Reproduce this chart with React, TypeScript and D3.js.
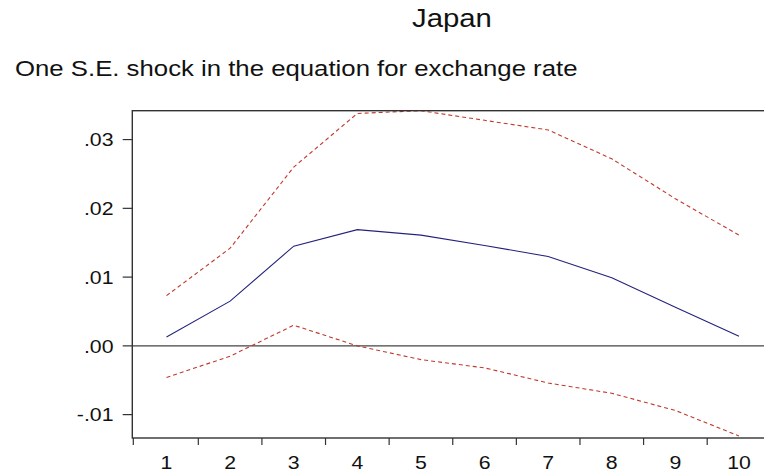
import React from 'react';
import * as d3 from 'd3';

// Impulse response horizon
const periods = [1, 2, 3, 4, 5, 6, 7, 8, 9, 10];
// Response of exchange rate and the +/- 2 S.E. bands
const response = [0.0013, 0.0065, 0.0145, 0.0169, 0.0161, 0.0146, 0.013, 0.0099, 0.0056, 0.0014];
const upperBand = [0.0073, 0.0142, 0.026, 0.0338, 0.0342, 0.0328, 0.0314, 0.0272, 0.0214, 0.0161];
const lowerBand = [-0.0046, -0.0015, 0.003, 0.0, -0.002, -0.0032, -0.0054, -0.0069, -0.0094, -0.0131];
const yTicks = [-0.01, 0, 0.01, 0.02, 0.03];

const W = 764;
const H = 473;
const FONT = '"Liberation Sans", Arial, sans-serif';
const SX = 1.15; // the source picture is a little wider than tall

const fmt = (v: number) => {
  const s = Math.abs(v).toFixed(2).replace(/^0/, '');
  return v < 0 ? '-' + s : s;
};

const App: React.FC = () => {
  const left = 132.3;
  const top = 110.7;
  const bottom = 438;

  const x = d3.scalePoint<number>().domain(periods).range([166.5, 739]);
  const step = x.step();
  const right = (x(10) as number) + step / 2;
  const y = d3.scaleLinear().domain([-0.0134, 0.0342]).range([bottom, top]);

  const line = d3
    .line<number>()
    .x((_, i) => x(periods[i]) as number)
    .y((d) => y(d));

  return (
    <div style={{ position: 'fixed', left: 0, top: 0 }}>
      <svg width={W} height={H} style={{ display: 'block', background: '#fff' }} fontFamily={FONT}>
        <g transform={`translate(412,27) scale(${SX},1)`}>
          <text fontSize={25.5} fill="#111">Japan</text>
        </g>
        <g transform={`translate(15,76) scale(${SX},1)`}>
          <text fontSize={22.4} fill="#111">One S.E. shock in the equation for exchange rate</text>
        </g>

        <defs>
          <clipPath id="plot">
            <rect x={left} y={top - 2} width={right - left} height={bottom - top + 4} />
          </clipPath>
        </defs>

        {/* zero line */}
        <line x1={left} x2={right} y1={y(0)} y2={y(0)} stroke="#444" strokeWidth={1.4} />

        <g clipPath="url(#plot)" fill="none">
          <path d={line(upperBand) || ''} stroke="#c0392b" strokeWidth={1.1} strokeDasharray="4,3" />
          <path d={line(lowerBand) || ''} stroke="#c0392b" strokeWidth={1.1} strokeDasharray="4,3" />
          <path d={line(response) || ''} stroke="#23237e" strokeWidth={1.1} />
        </g>

        {/* frame */}
        <rect x={left} y={top} width={right - left} height={bottom - top} fill="none" stroke="#333" strokeWidth={1.4} />

        {/* y axis */}
        {yTicks.map((t) => (
          <g key={t}>
            <line x1={left - 9.6} x2={left} y1={y(t)} y2={y(t)} stroke="#333" strokeWidth={1.2} />
            <g transform={`translate(113.5,${y(t)}) scale(${SX},1)`}>
              <text fontSize={18.5} textAnchor="end" dy="0.36em" fill="#111">
                {fmt(t)}
              </text>
            </g>
          </g>
        ))}

        {/* x axis: ticks on period boundaries, labels centred */}
        {periods.map((p) => {
          const cx = x(p) as number;
          const bx = p === 1 ? left + 1 : cx - step / 2;
          return (
            <g key={p}>
              <line x1={bx} x2={bx} y1={bottom} y2={bottom + 7} stroke="#333" strokeWidth={1.2} />
              <g transform={`translate(${cx},468.5) scale(${SX},1)`}>
                <text fontSize={18.5} textAnchor="middle" fill="#111">
                  {p}
                </text>
              </g>
            </g>
          );
        })}
      </svg>
    </div>
  );
};

export default App;
